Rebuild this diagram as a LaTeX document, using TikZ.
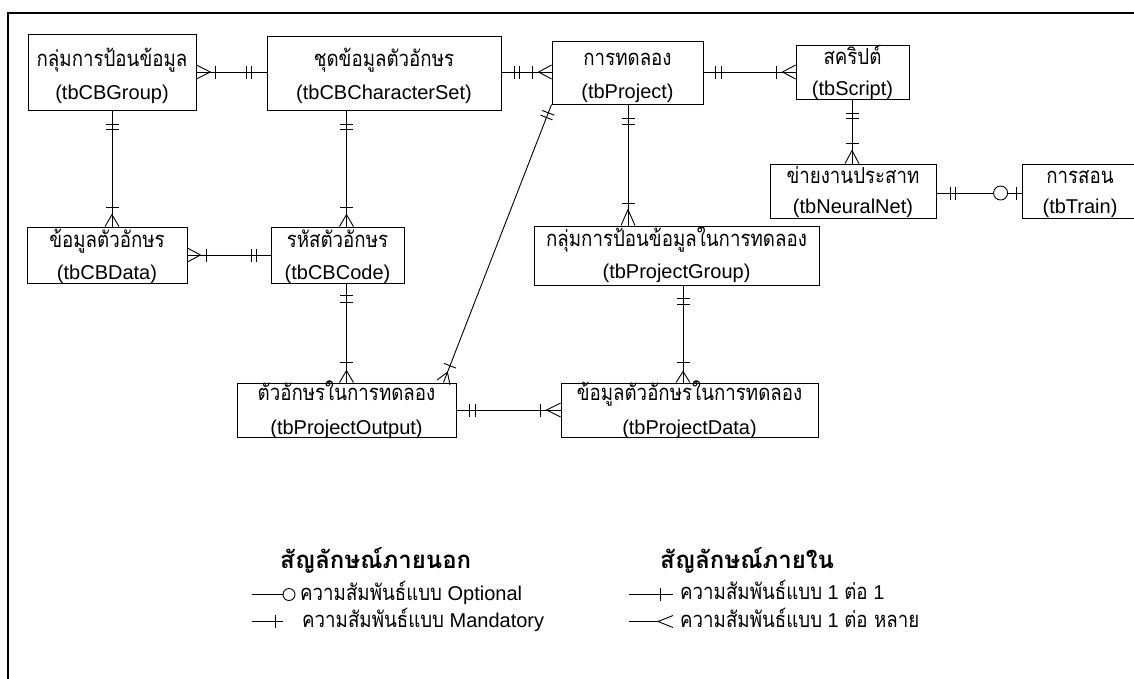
\documentclass[tikz,border=0pt]{standalone}
\usepackage{fontspec}
\setmainfont{Liberation Sans}
\newfontfamily\thai[Script=Thai, FakeStretch=0.85]{Loma}
\newfontfamily\thaihead[Script=Thai]{Loma}
\usetikzlibrary{decorations.markings}

% connector symbols, drawn in the local frame of a marking
\newcommand\erbar{\draw[link] (0,-6.5) -- (0,6.5);}
\newcommand\crowS[1]{\draw[link] (-#1,7) -- (0,0) -- (-#1,-7);}
\newcommand\crowE[1]{\draw[link] (#1,7) -- (0,0) -- (#1,-7);}
\newcommand\ercirc{\draw[link,fill=white] (0,0) circle (7);}

% two-line table caption: Thai name over the table name;
% #1 = rise of the Thai baseline, #2 = drop of the second baseline (pt)
\newcommand\tb[4]{%
  \makebox[0pt]{\raisebox{#1pt}[0pt][0pt]{\thai\fontsize{22}{24}\selectfont #3}}%
  \makebox[0pt]{\raisebox{-#2pt}[0pt][0pt]{#4}}}

\tikzset{
  link/.style={line width=0.9pt, black},
  tbl/.style={draw, line width=0.9pt, rectangle, inner sep=0pt,
              font=\fontsize{20}{24}\selectfont},
  mk/.style 2 args={postaction={decorate, decoration={markings,
      mark=at position #1 with {#2}}}},
  legtext/.style={anchor=base west, inner sep=0pt, font=\fontsize{20}{24}\selectfont},
  leghead/.style={anchor=base west, inner sep=0pt, font=\thaihead\fontsize{24}{28}\selectfont\bfseries},
}

\begin{document}
\begin{tikzpicture}[x=1pt, y=-1pt]
\useasboundingbox (0,0) rectangle (1134,678);
\fill[white] (0,0) rectangle (1134,678);

% outer frame
\draw[line width=2pt] (8,690) -- (8,13) -- (1140,13);

% tables
\node[tbl, minimum width=168, minimum height=76] (grp)   at (112,72)    {\tb{6}{27}{กลุ่มการป้อนข้อมูล}{(tbCBGroup)}};
\node[tbl, minimum width=234, minimum height=74] (cbset) at (384,73)    {\tb{7}{26}{ชุดข้อมูลตัวอักษร}{(tbCBCharacterSet)}};
\node[tbl, minimum width=151, minimum height=63] (prj)   at (627.5,72.5){\tb{7}{26}{การทดลอง}{(tbProject)}};
\node[tbl, minimum width=113, minimum height=54] (scr)   at (852.5,72)  {\tb{8}{23}{สคริปต์}{(tbScript)}};
\node[tbl, minimum width=166, minimum height=54] (nn)    at (853,191)   {\tb{8}{22}{ข่ายงานประสาท}{(tbNeuralNet)}};
\node[tbl, minimum width=116, minimum height=54] (trn)   at (1080,191)  {\tb{8}{22}{การสอน}{(tbTrain)}};
\node[tbl, minimum width=160, minimum height=56] (dat)   at (107,255)   {\tb{8}{24}{ข้อมูลตัวอักษร}{(tbCBData)}};
\node[tbl, minimum width=133, minimum height=56] (code)  at (337.5,255) {\tb{8}{24}{รหัสตัวอักษร}{(tbCBCode)}};
\node[tbl, minimum width=285, minimum height=59] (pgrp)  at (676.5,255.5){\tb{9}{22.5}{กลุ่มการป้อนข้อมูลในการทดลอง}{(tbProjectGroup)}};
\node[tbl, minimum width=219, minimum height=54] (pout)  at (346.5,410) {\tb{10}{24}{ตัวอักษรในการทดลอง}{(tbProjectOutput)}};
\node[tbl, minimum width=257, minimum height=54] (pdat)  at (689.5,410) {\tb{10}{24}{ข้อมูลตัวอักษรในการทดลอง}{(tbProjectData)}};

% connector rails
\coordinate (h1) at (0,72);
\coordinate (h2) at (0,193);
\coordinate (h3) at (0,255);
\coordinate (h4) at (0,410);
\coordinate (v1) at (112,0);
\coordinate (v2) at (346.5,0);
\coordinate (v3) at (852,0);
\coordinate (v4) at (628,0);
\coordinate (v5) at (683,0);

% relationships
\draw[link, mk={14pt}{\crowS{14}}, mk={19pt}{\erbar}, mk={-20pt}{\erbar}, mk={-15pt}{\erbar}]
  (grp.east |- h1) -- (cbset.west |- h1);
\draw[link, mk={13pt}{\erbar}, mk={18pt}{\erbar}, mk={-19pt}{\erbar}, mk={-13pt}{\crowE{13}}]
  (cbset.east |- h1) -- (prj.west |- h1);
\draw[link, mk={12pt}{\erbar}, mk={18pt}{\erbar}, mk={-19pt}{\erbar}, mk={-13pt}{\crowE{13}}]
  (prj.east |- h1) -- (scr.west |- h1);
\draw[link, mk={14pt}{\erbar}, mk={19pt}{\erbar}, mk={-20pt}{\erbar}, mk={-13pt}{\crowE{13}}]
  (scr.south -| v3) -- (nn.north -| v3);
\draw[link, mk={14pt}{\erbar}, mk={19pt}{\erbar}, mk={-21pt}{\ercirc}, mk={-5pt}{\erbar}]
  (nn.east |- h2) -- (trn.west |- h2);
\draw[link, mk={14pt}{\erbar}, mk={19pt}{\erbar}, mk={-19pt}{\erbar}, mk={-12pt}{\crowE{12}}]
  (grp.south -| v1) -- (dat.north -| v1);
\draw[link, mk={14pt}{\erbar}, mk={19pt}{\erbar}, mk={-19pt}{\erbar}, mk={-12pt}{\crowE{12}}]
  (cbset.south -| v2) -- (code.north -| v2);
\draw[link, mk={13pt}{\crowS{13}}, mk={19pt}{\erbar}, mk={-19pt}{\erbar}, mk={-14pt}{\erbar}]
  (dat.east |- h3) -- (code.west |- h3);
\draw[link, mk={12pt}{\erbar}, mk={19pt}{\erbar}, mk={-20pt}{\erbar}, mk={-12pt}{\crowE{12}}]
  (code.south -| v2) -- (pout.north -| v2);
\draw[link, mk={9pt}{\erbar}, mk={14pt}{\erbar}, mk={-18pt}{\erbar}, mk={-11pt}{\crowE{11}}]
  (prj.south west) -- ([xshift=-13]pout.north east);
\draw[link, mk={14pt}{\erbar}, mk={20pt}{\erbar}, mk={-22pt}{\erbar}, mk={-16pt}{\crowE{16}}]
  (prj.south -| v4) -- (pgrp.north -| v4);
\draw[link, mk={13pt}{\erbar}, mk={19pt}{\erbar}, mk={-20pt}{\erbar}, mk={-11pt}{\crowE{11}}]
  (pgrp.south -| v5) -- (pdat.north -| v5);
\draw[link, mk={13pt}{\erbar}, mk={19pt}{\erbar}, mk={-20pt}{\erbar}, mk={-14pt}{\crowE{14}}]
  (pout.east |- h4) -- (pdat.west |- h4);

% legend
\node[leghead] (lh1) at (280,568) {สัญลักษณ์ภายนอก};
\node[leghead] (lh2) at (660,568) {สัญลักษณ์ภายใน};

\coordinate (a1) at (252,594.5); \coordinate (a2) at (283,594.5);
\coordinate (b1) at (252,621.5); \coordinate (b2) at (283,621.5);
\coordinate (c1) at (629,594.5); \coordinate (c2) at (673,594.5);
\coordinate (d1) at (629,621.5); \coordinate (d2) at (658,621.5);

\draw[link] (a1) -- (a2);
\draw[link] (a2) ++(6,0) circle (6);
\draw[link, mk={-8pt}{\erbar}] (b1) -- (b2);
\draw[link, mk={-13pt}{\erbar}] (c1) -- (c2);
\draw[link] (d1) -- (d2) -- ++(15,-6) (d2) -- ++(15,6);

\node[legtext] (t1) at (300,600) {{\thai\fontsize{22}{24}\selectfont ความสัมพันธ์แบบ} Optional};
\node[legtext] (t2) at (302,627) {{\thai\fontsize{22}{24}\selectfont ความสัมพันธ์แบบ} Mandatory};
\node[legtext] (t3) at (680,599) {{\thai\fontsize{22}{24}\selectfont ความสัมพันธ์แบบ} 1 {\thai\fontsize{22}{24}\selectfont ต่อ} 1};
\node[legtext] (t4) at (680,627) {{\thai\fontsize{22}{24}\selectfont ความสัมพันธ์แบบ} 1 {\thai\fontsize{22}{24}\selectfont ต่อ หลาย}};
\end{tikzpicture}
\end{document}
